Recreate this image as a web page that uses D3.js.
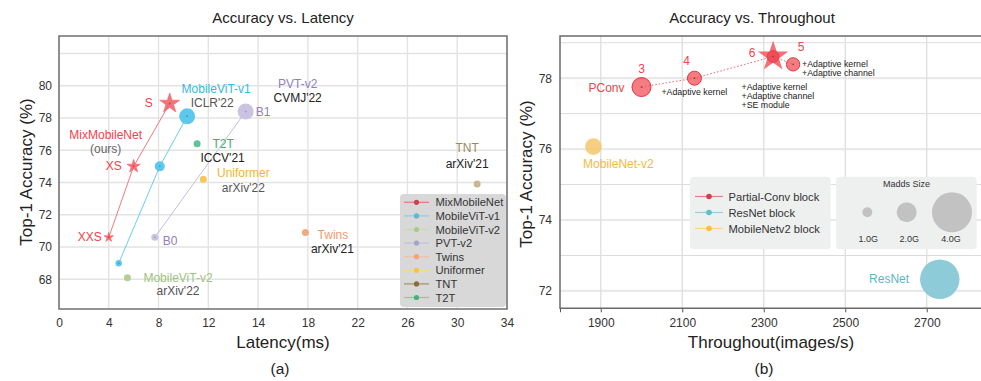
<!DOCTYPE html>
<html><head><meta charset="utf-8">
<script src="https://cdn.jsdelivr.net/npm/d3@7"></script>
<style>body{margin:0;background:#fff}svg{display:block;font-family:"Liberation Sans",Arial,sans-serif}</style>
</head><body><svg id="c" width="981" height="381"></svg>
<script>
// ---------- (a) Accuracy vs. Latency ----------
const latencyCategories = ["MixMobileNet","MobileViT-v1","MobileViT-v2","PVT-v2","Twins","Uniformer","TNT","T2T"];
const mixVariants = ["XXS","XS","S"];
const mixLatency = [4.0, 6.0, 8.9];
const mixAccuracy = [70.6, 75.0, 78.9];
const vit1Latency = [4.8, 8.1, 10.3];
const vit1Accuracy = [69.0, 75.0, 78.1];
const vit2Latency = [5.5];
const vit2Accuracy = [68.1];
const pvtVariants = ["B0","B1"];
const pvtLatency = [7.7, 13.5];
const pvtAccuracy = [70.6, 78.4];
const twinsLatency = [17.8];
const twinsAccuracy = [70.9];
const uniformerLatency = [11.6];
const uniformerAccuracy = [74.2];
const tntLatency = [31.6];
const tntAccuracy = [73.9];
const t2tLatency = [11.1];
const t2tAccuracy = [76.4];
const latencyTicks = [0,4,8,12,14,18,22,26,30,34];
const latAccTicks = [68,70,72,74,76,78,80];

// ---------- (b) Accuracy vs. Throughout ----------
const blockCategories = ["Partial-Conv block","ResNet block","MobileNetv2 block"];
const pconvSteps = ["3","4","6","5"];
const pconvThroughput = [2000, 2130, 2323, 2372];
const pconvAccuracy = [77.75, 78.0, 78.61, 78.39];
const pconvMadds = [1.9, 1.4, 1.2, 1.33];
const mnv2Throughput = [1882];
const mnv2Accuracy = [76.07];
const mnv2Madds = [1.67];
const resnetThroughput = [2732];
const resnetAccuracy = [72.33];
const resnetMadds = [3.95];
const maddsLegend = [1.0, 2.0, 4.0];
const throughputTicks = [1800,1900,2100,2300,2500,2700];
const thrAccTicks = [72,74,76,78];

const svg = d3.select("#c");
const FONT = '"Liberation Sans",Arial,sans-serif';

function starPath(r){
  const p=[];
  for(let i=0;i<10;i++){const a=-Math.PI/2+i*Math.PI/5;const rr=i%2?r*0.382:r;p.push([rr*Math.cos(a),rr*Math.sin(a)]);}
  return d3.line()(p)+"Z";
}
function txt(g,x,y,s,opt={}){
  return g.append("text").attr("x",x).attr("y",y).text(s)
    .attr("font-size",opt.size||12).attr("fill",opt.color||"#222")
    .attr("text-anchor",opt.anchor||"middle").attr("dominant-baseline","central");
}

// ================= LEFT =================
const xL = d3.scaleLinear().domain([0,12,14,34]).range([59,208.3,258.1,507]);
const yL = d3.scaleLinear().domain([66.16,83.08]).range([309,36]);
const gL = svg.append("g");
// grid
gL.selectAll(".gy").data(d3.range(68,83,2)).join("line")
  .attr("x1",59).attr("x2",507).attr("y1",d=>yL(d)).attr("y2",d=>yL(d))
  .attr("stroke","#e3e3e3").attr("stroke-width",1.4);
gL.selectAll(".gx").data(latencyTicks).join("line")
  .attr("x1",d=>xL(d)).attr("x2",d=>xL(d)).attr("y1",36).attr("y2",309)
  .attr("stroke","#e3e3e3").attr("stroke-width",1.4);
// axes labels
const axL = d3.axisBottom(xL).tickValues(latencyTicks).tickSize(0).tickPadding(9).tickFormat(d=>d);
const axLg = gL.append("g").attr("transform","translate(0,309)").call(axL);
axLg.select(".domain").remove();
axLg.selectAll("text").attr("font-size",12).attr("fill","#333").attr("font-family",FONT);
const ayL = d3.axisLeft(yL).tickValues(latAccTicks).tickSize(0).tickPadding(7);
const ayLg = gL.append("g").attr("transform","translate(59,0)").call(ayL);
ayLg.select(".domain").remove();
ayLg.selectAll("text").attr("font-size",12).attr("fill","#333").attr("font-family",FONT);
// frame
gL.append("rect").attr("x",59).attr("y",36).attr("width",448).attr("height",273)
  .attr("fill","none").attr("stroke","#707070").attr("stroke-width",1.5);

const line = d3.line();
function series(lat,acc){return lat.map((v,i)=>[xL(v),yL(acc[i])]);}
// connecting lines
gL.append("path").attr("d",line(series(mixLatency,mixAccuracy))).attr("fill","none").attr("stroke","#f07b80").attr("stroke-width",1);
gL.append("path").attr("d",line(series(vit1Latency,vit1Accuracy))).attr("fill","none").attr("stroke","#6ccbef").attr("stroke-width",1);
gL.append("path").attr("d",line(series(pvtLatency,pvtAccuracy))).attr("fill","none").attr("stroke","#c6bde0").attr("stroke-width",1);

// MixMobileNet stars
const mixR=[5,7,10.5];
series(mixLatency,mixAccuracy).forEach((p,i)=>{
  gL.append("path").attr("d",starPath(mixR[i])).attr("transform",`translate(${p[0]},${p[1]})`)
    .attr("fill","#f0656c").attr("fill-opacity",0.9).attr("stroke","#f0656c").attr("stroke-width",0.6);
  gL.append("circle").attr("cx",p[0]).attr("cy",p[1]).attr("r",1).attr("fill","#d9414b");
});
// MobileViT-v1
const vit1R=[3.2,5,8];
series(vit1Latency,vit1Accuracy).forEach((p,i)=>{
  gL.append("circle").attr("cx",p[0]).attr("cy",p[1]).attr("r",vit1R[i]).attr("fill","#5cc8ec");
  gL.append("circle").attr("cx",p[0]).attr("cy",p[1]).attr("r",1).attr("fill","#3aa7cf");
});
// PVT-v2
const pvtR=[3.5,8];
series(pvtLatency,pvtAccuracy).forEach((p,i)=>{
  gL.append("circle").attr("cx",p[0]).attr("cy",p[1]).attr("r",pvtR[i]).attr("fill","#cbc3e2");
  gL.append("circle").attr("cx",p[0]).attr("cy",p[1]).attr("r",1).attr("fill","#a99ccc");
});
// singles
const singles=[
  [vit2Latency,vit2Accuracy,"#b3cf95",3.5],
  [twinsLatency,twinsAccuracy,"#f4a97e",3.5],
  [uniformerLatency,uniformerAccuracy,"#f8c75a",3.5],
  [tntLatency,tntAccuracy,"#c9b88e",3.5],
  [t2tLatency,t2tAccuracy,"#5ec493",3.5]
];
singles.forEach(s=>{series(s[0],s[1]).forEach(p=>{
  gL.append("circle").attr("cx",p[0]).attr("cy",p[1]).attr("r",s[3]).attr("fill",s[2]);
});});

// annotations
const P=(lat,acc,i)=>[xL(lat[i]),yL(acc[i])];
let p;
p=P(mixLatency,mixAccuracy,2); txt(gL,p[0]-21,p[1],mixVariants[2],{color:"#f0434c"});
p=P(mixLatency,mixAccuracy,1); txt(gL,p[0]-20,p[1],mixVariants[1],{color:"#f0434c"});
txt(gL,p[0]-28,p[1]-31,"MixMobileNet",{color:"#f0434c"});
txt(gL,p[0]-28,p[1]-17,"(ours)",{color:"#666"});
p=P(mixLatency,mixAccuracy,0); txt(gL,p[0]-19,p[1],mixVariants[0],{color:"#f0434c"});
p=P(vit1Latency,vit1Accuracy,2); txt(gL,p[0]+29,p[1]-27,"MobileViT-v1",{color:"#3ab6e2"});
txt(gL,p[0]+25,p[1]-13,"ICLR'22",{color:"#555"});
p=P(pvtLatency,pvtAccuracy,1); txt(gL,p[0]+52,p[1]-28,"PVT-v2",{color:"#9080c0"});
txt(gL,p[0]+52,p[1]-14,"CVMJ'22",{color:"#222"});
txt(gL,p[0]+10,p[1],pvtVariants[1],{color:"#9080c0",anchor:"start"});
p=P(pvtLatency,pvtAccuracy,0); txt(gL,p[0]+8,p[1]+4,pvtVariants[0],{color:"#9080c0",anchor:"start"});
p=P(t2tLatency,t2tAccuracy,0); txt(gL,p[0]+26,p[1],"T2T",{color:"#3cb070"});
txt(gL,p[0]+25.5,p[1]+14,"ICCV'21",{color:"#222"});
p=P(uniformerLatency,uniformerAccuracy,0); txt(gL,p[0]+40,p[1]-6,"Uniformer",{color:"#f5b33c"});
txt(gL,p[0]+40,p[1]+9,"arXiv'22",{color:"#555"});
p=P(twinsLatency,twinsAccuracy,0); txt(gL,p[0]+27.5,p[1]+2,"Twins",{color:"#f29a6c"});
txt(gL,p[0]+27,p[1]+16.5,"arXiv'21",{color:"#222"});
p=P(tntLatency,tntAccuracy,0); txt(gL,p[0]-10,p[1]-36,"TNT",{color:"#a08a5c"});
txt(gL,p[0]-10,p[1]-20,"arXiv'21",{color:"#222"});
p=P(vit2Latency,vit2Accuracy,0); txt(gL,p[0]+50.6,p[1],"MobileViT-v2",{color:"#9cc47c"});
txt(gL,p[0]+50.6,p[1]+13,"arXiv'22",{color:"#555"});

// legend left
const legL = gL.append("g");
legL.append("rect").attr("x",400).attr("y",194).attr("width",106).attr("height",113).attr("rx",4).attr("fill","#d8d8d8");
const legColors=["#c9454d","#5fb6d2","#acc98c","#ab9fce","#f2a47e","#f7c24c","#8a6c3a","#3cb874"];
const legLine =["#e07a80","#8ccde2","#c6dcb0","#c6bde0","#f4c0a4","#f8d888","#a88c60","#7ad0a0"];
latencyCategories.forEach((c,i)=>{
  const y=202.3+i*13.6;
  legL.append("line").attr("x1",404).attr("x2",429).attr("y1",y).attr("y2",y).attr("stroke",legLine[i]).attr("stroke-width",1.2);
  legL.append("circle").attr("cx",416.5).attr("cy",y).attr("r",2.6).attr("fill",legColors[i]);
  txt(legL,435.5,y,c,{size:11.2,color:"#333",anchor:"start"});
});

// titles
txt(svg,283,17,"Accuracy vs. Latency",{size:15,color:"#222"});
txt(svg,283,342,"Latency(ms)",{size:17,color:"#222"});
txt(svg,280,368,"(a)",{size:15.5,color:"#222"});
svg.append("text").attr("transform","translate(26,172) rotate(-90)").text("Top-1 Accuracy (%)")
  .attr("font-size",17).attr("fill","#222").attr("text-anchor","middle").attr("dominant-baseline","central");

// ================= RIGHT =================
const xR = d3.scaleLinear().domain([1800,2930]).range([560,560+1130*0.4075]);
const yR = d3.scaleLinear().domain([71.51,79.19]).range([308.3,36]);
const rR = d3.scaleLinear().domain([0,4]).range([0,20]);
const gR = svg.append("g");
const xMax = 985;
// grid
gR.selectAll(".gyr").data(d3.range(72,80,1)).join("line")
  .attr("x1",560).attr("x2",xMax).attr("y1",d=>yR(d)).attr("y2",d=>yR(d))
  .attr("stroke",d=>d%2===0?"#e9e9e9":"#dcdcdc").attr("stroke-width",d=>d%2===0?2.2:1);
gR.selectAll(".gxr").data(throughputTicks.slice(1)).join("line")
  .attr("x1",d=>xR(d)).attr("x2",d=>xR(d)).attr("y1",36).attr("y2",308.3)
  .attr("stroke","#dedede").attr("stroke-width",1.3);
// axes
const axR = d3.axisBottom(xR).tickValues(throughputTicks).tickSize(4).tickPadding(6).tickFormat(d=>d===1800?"":d);
const axRg = gR.append("g").attr("transform","translate(0,308.3)").call(axR);
axRg.select(".domain").remove();
axRg.selectAll("line").attr("stroke","#555");
axRg.selectAll("text").attr("font-size",12).attr("fill","#333").attr("font-family",FONT);
const ayR = d3.axisLeft(yR).tickValues(thrAccTicks).tickSize(0).tickPadding(8);
const ayRg = gR.append("g").attr("transform","translate(560,0)").call(ayR);
ayRg.select(".domain").remove();
ayRg.selectAll("text").attr("font-size",12).attr("fill","#333").attr("font-family",FONT);
gR.append("path").attr("d",`M${xMax},36H560V308.3H${xMax}`).attr("fill","none").attr("stroke","#6a6a6a").attr("stroke-width",1.5);

// pconv dotted line
const pc = pconvThroughput.map((v,i)=>[xR(v),yR(pconvAccuracy[i])]);
gR.append("path").attr("d",line(pc)).attr("fill","none").attr("stroke","#f0656c").attr("stroke-width",1).attr("stroke-dasharray","1.5,2");
pc.forEach((q,i)=>{
  if(pconvSteps[i]==="6"){
    gR.append("path").attr("d",starPath(16)).attr("transform",`translate(${q[0]},${q[1]})`)
      .attr("fill","#f05860").attr("fill-opacity",0.85);
    gR.append("circle").attr("cx",q[0]).attr("cy",q[1]).attr("r",rR(pconvMadds[i])).attr("fill","#e8333d").attr("fill-opacity",0.55).attr("stroke","#e8333d").attr("stroke-opacity",0.6);
  } else {
    gR.append("circle").attr("cx",q[0]).attr("cy",q[1]).attr("r",rR(pconvMadds[i])).attr("fill","#f05058").attr("fill-opacity",0.75).attr("stroke","#e8333d").attr("stroke-width",1);
  }
  gR.append("circle").attr("cx",q[0]).attr("cy",q[1]).attr("r",0.9).attr("fill","#c0303a");
});
// mnv2 & resnet
gR.append("circle").attr("cx",xR(mnv2Throughput[0])).attr("cy",yR(mnv2Accuracy[0])).attr("r",rR(mnv2Madds[0])).attr("fill","#f5c86a").attr("fill-opacity",0.85);
gR.append("circle").attr("cx",xR(resnetThroughput[0])).attr("cy",yR(resnetAccuracy[0])).attr("r",rR(resnetMadds[0])).attr("fill","#8ecbd8");

// annotations right
const red="#f0434c";
const offs=[[0,-18],[-8,-17],[-21,-4],[8,-17]];
pc.forEach((q,i)=>txt(gR,q[0]+offs[i][0],q[1]+offs[i][1],pconvSteps[i],{color:red,size:12}));
txt(gR,pc[0][0]-35,pc[0][1]+1,"PConv",{color:red});
txt(gR,pc[1][0]-33,pc[1][1]+14,"+Adaptive kernel",{size:8.8,color:"#222",anchor:"start"});
["+Adaptive kernel","+Adaptive channel","+SE module"].forEach((s,k)=>txt(gR,pc[2][0]-31.6,pc[2][1]+30+9*k,s,{size:8.8,color:"#222",anchor:"start"}));
["+Adaptive kernel","+Adaptive channel"].forEach((s,k)=>txt(gR,pc[3][0]+9,pc[3][1]-0.6+9*k,s,{size:8.8,color:"#222",anchor:"start"}));
txt(gR,xR(mnv2Throughput[0])+25,yR(mnv2Accuracy[0])+17.6,"MobileNet-v2",{color:"#f5b942"});
txt(gR,xR(resnetThroughput[0])-50.7,yR(resnetAccuracy[0]),"ResNet",{color:"#5ab6ca"});

// legends right
gR.append("rect").attr("x",690).attr("y",176.7).attr("width",140.7).attr("height",72.6).attr("rx",4).attr("fill","#eef0ef");
const bCol=["#c9454d","#6cb9cd","#f5c242"], bLine=["#e08088","#98cede","#f8d680"];
blockCategories.forEach((c,i)=>{
  const y=196.5+i*16;
  gR.append("line").attr("x1",695).attr("x2",723).attr("y1",y).attr("y2",y).attr("stroke",bLine[i]).attr("stroke-width",1.2);
  gR.append("circle").attr("cx",709).attr("cy",y).attr("r",2.8).attr("fill",bCol[i]);
  txt(gR,728.5,y,c,{size:11.2,color:"#333",anchor:"start"});
});
gR.append("rect").attr("x",836).attr("y",176.7).attr("width",140.7).attr("height",72.6).attr("rx",4).attr("fill","#eef0ef");
txt(gR,906.5,183.6,"Madds Size",{size:9,color:"#333"});
const mx=[867.3,906.7,952], lx=[868.3,909.3,951];
maddsLegend.forEach((m,i)=>{
  gR.append("circle").attr("cx",mx[i]).attr("cy",212.3).attr("r",rR(m)).attr("fill","#c2c2c2");
  txt(gR,lx[i],238.5,m.toFixed(1)+"G",{size:9,color:"#333"});
});

txt(svg,752,17,"Accuracy vs. Throughout",{size:15,color:"#222"});
txt(svg,771,342,"Throughout(images/s)",{size:17,color:"#222"});
txt(svg,764,368,"(b)",{size:15.5,color:"#222"});
svg.append("text").attr("transform","translate(526,174) rotate(-90)").text("Top-1 Accuracy (%)")
  .attr("font-size",17).attr("fill","#222").attr("text-anchor","middle").attr("dominant-baseline","central");
</script></body></html>
